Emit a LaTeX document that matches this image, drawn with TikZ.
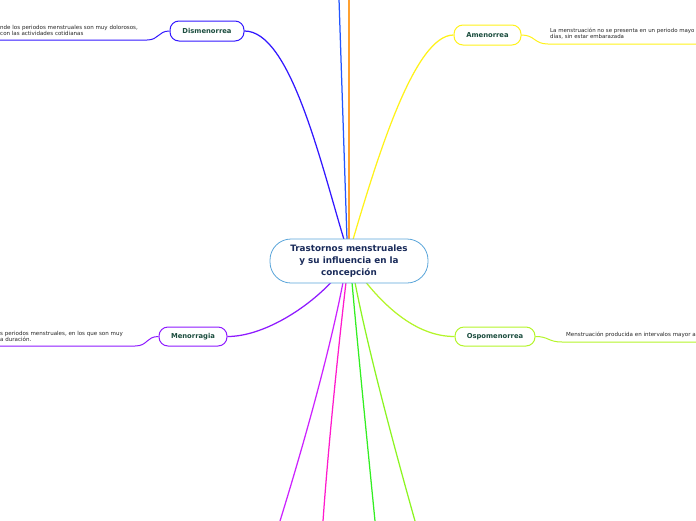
\documentclass[tikz,border=0pt]{standalone}
\usepackage{fontspec}
\setmainfont{DejaVu Sans}
\usetikzlibrary{calc}
\pgfdeclarelayer{background}
\pgfsetlayers{background,main}
\definecolor{labelgreen}{HTML}{1B4D3E}
\definecolor{centerblue}{HTML}{5AA5DA}
\definecolor{centertext}{HTML}{1A2B5A}
\definecolor{cdis}{HTML}{3318FF}
\definecolor{cblue}{HTML}{2255FF}
\definecolor{corange}{HTML}{FFA030}
\definecolor{cyellow}{HTML}{FFF21A}
\definecolor{cospo}{HTML}{B4F52A}
\definecolor{cmeno}{HTML}{8E1AFF}
\definecolor{cpurple}{HTML}{CC22FF}
\definecolor{cmagenta}{HTML}{FF1ACC}
\definecolor{cgreen}{HTML}{33EE22}
\definecolor{cyg}{HTML}{8CF522}
\begin{document}
\begin{tikzpicture}[x=1pt,y=-1pt,
  topic/.style={draw, rounded corners=9pt, line width=1pt, fill=white,
    font=\fontsize{6.8}{8}\selectfont\bfseries, text=labelgreen,
    minimum height=20pt, inner xsep=0pt},
  desc/.style={font=\fontsize{5.55}{6.2}\selectfont, align=left, anchor=north west,
    inner sep=0pt, text=black!85},
  conn/.style={line width=1.25pt},
  under/.style={line width=1pt}]
\useasboundingbox (0,0) rectangle (696,520);
\clip (0,0) rectangle (696,520);

% central topic
\node[draw=centerblue, line width=0.8pt, fill=white, rounded corners=21pt,
  minimum width=158pt, minimum height=44pt, align=center, text=centertext,
  font=\fontsize{8.8}{12}\selectfont\bfseries] (c) at (349,261)
  {Trastornos menstruales\\y su influencia en la\\concepción};

% main topics
\node[topic, draw=cdis, minimum width=74pt] (dis) at (207,31) {Dismenorrea};
\node[topic, draw=cyellow, minimum width=67pt] (ame) at (487.5,35) {Amenorrea};
\node[topic, draw=cospo, minimum width=80pt, minimum height=19pt] (osp) at (495,336.5) {Ospomenorrea};
\node[topic, draw=cmeno, minimum width=68pt, minimum height=19pt] (men) at (193,336.5) {Menorragia};

% free ends
\coordinate (tb) at (339,-1);
\coordinate (to) at (349,-1);
\coordinate (b1) at (280,521);
\coordinate (b2) at (323,521);
\coordinate (b3) at (375,521);
\coordinate (b4) at (415,521);
\coordinate (dl) at (-1,40);
\coordinate (al) at (697,44);
\coordinate (ol) at (697,342);
\coordinate (ml) at (-1,346);

\begin{pgfonlayer}{background}
\draw[conn, cblue] ($(c.north)+(-2,1)$) -- (tb);
\draw[conn, corange] ($(c.north)+(0,1)$) -- (to);
\draw[conn, cdis] ($(c.north)+(-5,1)$) .. controls (320,160) and (290,31) .. (dis.east);
\draw[conn, cyellow] ($(c.north)+(4,1)$) .. controls (378,155) and (415,35) .. (ame.west);
\draw[conn, cospo] ($(c.south)+(17,-1)$) .. controls (390,312) and (420,336.5) .. (osp.west);
\draw[conn, cmeno] ($(c.south)+(-18,-1)$) .. controls (305,310) and (262,336.5) .. (men.east);
\draw[conn, cpurple] ($(c.south)+(-6,-1)$) .. controls (330,350) and (305,440) .. (b1);
\draw[conn, cmagenta] ($(c.south)+(-3,-1)$) .. controls (338,350) and (328,450) .. (b2);
\draw[conn, cgreen] ($(c.south)+(3,-1)$) .. controls (358,350) and (368,450) .. (b3);
\draw[conn, cyg] ($(c.south)+(6,-1)$) .. controls (368,350) and (395,450) .. (b4);
\end{pgfonlayer}

% description underlines
\draw[under, cdis] (dis.west) .. controls (158,31) and (159,40) .. (147,40) -- (dl);
\draw[under, cyellow] (ame.east) .. controls (535,35) and (534,44) .. (548,44) -- (al);
\draw[under, cospo] (osp.east) .. controls (549,336.5) and (548,342) .. (562,342) -- (ol);
\draw[under, cmeno] (men.west) .. controls (146,336.5) and (148,346) .. (135,346) -- (ml);

% descriptions
\node[desc] (dd) at (0,24.6) {nde los periodos menstruales son muy dolorosos,\\con las actividades cotidianas};
\node[desc, font=\fontsize{5.45}{6.2}\selectfont] (ad) at (550,28.1) {La menstruación no se presenta en un periodo mayo\\días, sin estar embarazada};
\node[desc] (od) at (566,332.1) {Menstruación producida en intervalos mayor a};
\node[desc] (md) at (0,330.8) {s periodos menstruales, en los que son muy\\a duración.};
\end{tikzpicture}
\end{document}
